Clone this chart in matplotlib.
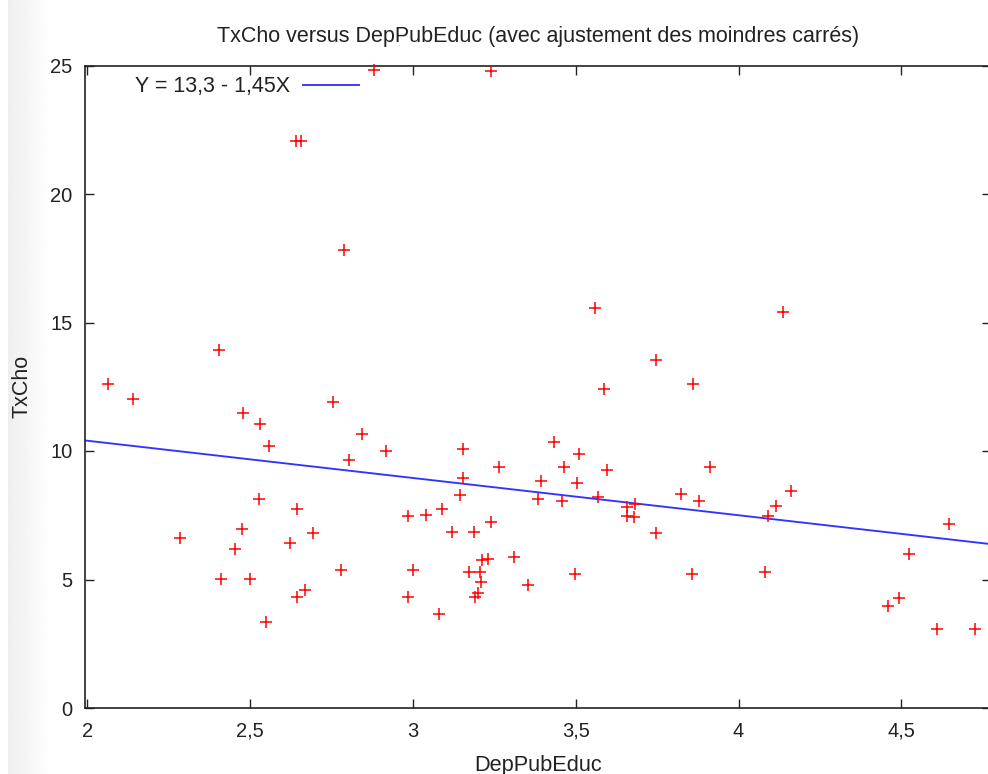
# -*- coding: utf-8 -*-
'''
TxCho versus DepPubEduc scatter with least squares line (gnuplot look)
'''

#%%
# imports
import numpy as np
import matplotlib
matplotlib.use('Agg')
import matplotlib.pyplot as plt

#%%
# data
dep_pub_educ = [2.881, 2.641, 2.655, 2.788, 2.405, 3.240, 3.559, 3.747,
                2.063, 2.141, 2.479, 2.530, 2.559, 2.754, 2.843, 2.803,
                2.917, 2.528, 2.643, 2.475, 2.694, 2.285, 2.454, 2.623,
                2.986, 2.411, 2.500, 2.778, 2.670, 2.643, 2.549, 2.986,
                3.040, 3.090, 3.001, 3.081, 3.155, 3.155, 3.145, 3.119,
                3.186, 3.240, 3.264, 3.211, 3.231, 3.173, 3.206, 3.209,
                3.201, 3.190, 3.311, 3.354, 3.433, 3.463, 3.509, 3.394,
                3.503, 3.383, 3.459, 3.568, 3.597, 3.588, 3.861, 3.912,
                3.822, 3.877, 3.657, 3.683, 3.657, 3.679, 3.747, 3.499,
                3.856, 4.135, 4.160, 4.115, 4.090, 4.080, 4.646, 4.523,
                4.494, 4.459, 4.608, 4.727]
tx_cho = [24.82, 22.06, 22.06, 17.82, 13.93, 24.80, 15.55, 13.54,
          12.60, 12.01, 11.47, 11.04, 10.19, 11.89, 10.65, 9.64,
          10.00, 8.12, 7.73, 6.98, 6.80, 6.60, 6.18, 6.42,
          7.48, 5.02, 5.02, 5.36, 4.60, 4.32, 3.33, 4.33,
          7.50, 7.76, 5.36, 3.66, 10.08, 8.94, 8.30, 6.85,
          6.85, 7.24, 9.38, 5.75, 5.80, 5.29, 5.29, 4.90,
          4.49, 4.33, 5.86, 4.77, 10.35, 9.38, 9.88, 8.82,
          8.75, 8.13, 8.07, 8.22, 9.26, 12.40, 12.60, 9.38,
          8.31, 8.07, 7.83, 7.94, 7.48, 7.42, 6.81, 5.23,
          5.23, 15.42, 8.44, 7.86, 7.47, 5.28, 7.17, 5.98,
          4.27, 3.97, 3.07, 3.07]

# least squares fit as printed in the key
intercept = 13.3
slope = -1.45

x_ticks = [2, 2.5, 3, 3.5, 4, 4.5]
y_ticks = [0, 5, 10, 15, 20, 25]

#%%
plt.rcParams['font.family'] = ['Liberation Sans', 'DejaVu Sans']

fig = plt.figure(figsize=(9.88, 7.74), dpi=100)
fig.patch.set_facecolor('white')

# light grey shadow strip on the left border
shade = fig.add_axes([8 / 988, 0, 42 / 988, 1])
grad = np.linspace(0.935, 1.0, 64).reshape(1, -1)
shade.imshow(grad, aspect='auto', cmap='gray', vmin=0, vmax=1,
             extent=[0, 1, 0, 1])
shade.axis('off')

# main axes (right border runs just past the picture edge)
ax = fig.add_axes([85 / 988, 66 / 774, 906 / 988, 642.5 / 774])
ax.set_xlim(1.993, 4.775)
ax.set_ylim(0, 25)

# scatter points
ax.plot(dep_pub_educ, tx_cho, linestyle='none', marker='+', color='#ff0000',
        markersize=8.6, markeredgewidth=1.1, clip_on=False, zorder=3)

# fitted line
xs = np.array(ax.get_xlim())
ax.plot(xs, intercept + slope * xs, color='#3333ff', linewidth=1.35,
        label='Y = 13,3 - 1,45X', zorder=2)

# ticks in gnuplot style
ax.set_xticks(x_ticks)
ax.set_yticks(y_ticks)
ax.set_xticklabels([str(t).replace('.', ',') for t in x_ticks])
ax.set_yticklabels([str(t) for t in y_ticks])
ax.tick_params(direction='in', length=6.5, width=1.0, colors='#222222',
               labelsize=14.5, top=True, right=True)
ax.tick_params(axis='x', pad=10)
ax.tick_params(axis='y', pad=9)
for s in ax.spines.values():
    s.set_linewidth(1.2)
    s.set_color('#222222')

# labels
ax.set_title('TxCho versus DepPubEduc (avec ajustement des moindres carrés)',
             fontsize=15.5, color='#222222', pad=17)
ax.set_xlabel('DepPubEduc', fontsize=15.7, color='#222222', labelpad=10)
ax.set_ylabel('TxCho', fontsize=15.5, color='#222222', labelpad=12.5)

# key: text first, line sample after it
leg = ax.legend(loc='upper left', bbox_to_anchor=(50 / 906, 0.983),
                markerfirst=False, frameon=False, fontsize=15.5,
                handlelength=2.6, handletextpad=0.6, borderpad=0,
                borderaxespad=0)
for t in leg.get_texts():
    t.set_color('#222222')

plt.savefig('out.png', dpi=100)
plt.close()
